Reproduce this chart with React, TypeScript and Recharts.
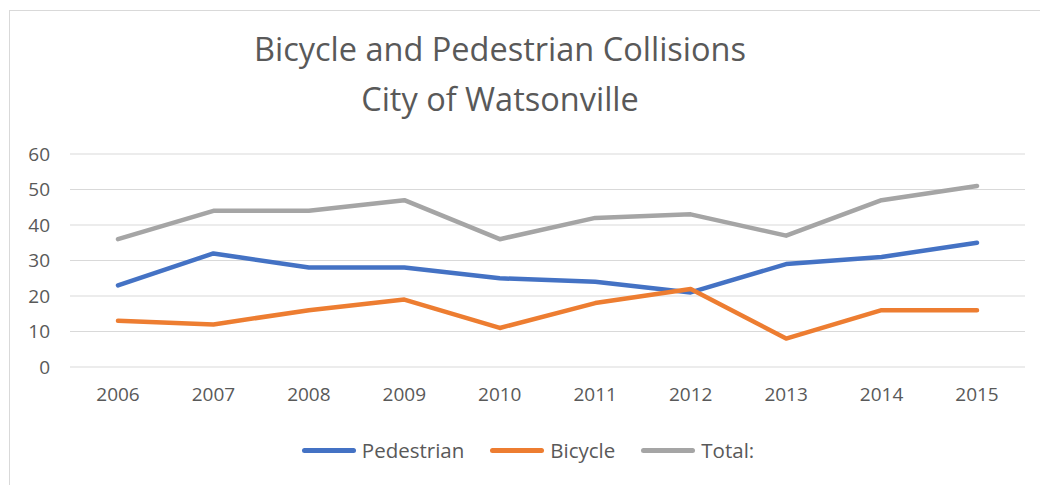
import React from 'react';
import { LineChart, Line, XAxis, YAxis, CartesianGrid, Legend } from 'recharts';

const years = ['2006', '2007', '2008', '2009', '2010', '2011', '2012', '2013', '2014', '2015'];
const pedestrian = [23, 32, 28, 28, 25, 24, 21, 29, 31, 35];
const bicycle = [13, 12, 16, 19, 11, 18, 22, 8, 16, 16];
const total = [36, 44, 44, 47, 36, 42, 43, 37, 47, 51];
const yTicks = [0, 10, 20, 30, 40, 50, 60];

const seriesList = [
    { key: 'pedestrian', name: 'Pedestrian', color: '#4472C4' },
    { key: 'bicycle', name: 'Bicycle', color: '#ED7D31' },
    { key: 'total', name: 'Total:', color: '#A5A5A5' },
];

const data = years.map((year, i) => ({
    year,
    pedestrian: pedestrian[i],
    bicycle: bicycle[i],
    total: total[i],
}));

const FONT = '"Open Sans", "Segoe UI", sans-serif';
const TEXT = '#595959';

function LegendRow() {
    return (
        <div style={{ display: 'flex', justifyContent: 'center', gap: 26, fontFamily: FONT, fontSize: 20.5, color: TEXT }}>
            {seriesList.map(s => (
                <div key={s.key} style={{ display: 'flex', alignItems: 'center', gap: 6 }}>
                    <div style={{ width: 54, height: 5, borderRadius: 3, background: s.color }} />
                    <span>{s.name}</span>
                </div>
            ))}
        </div>
    );
}

export default function App() {
    return (
        <div style={{ position: 'absolute', left: 0, top: 0, width: 1040, height: 485, background: '#fff', overflow: 'hidden' }}>
            {/* frame */}
            <div style={{ position: 'absolute', left: 9, top: 10, width: 1040, height: 480, border: '1px solid #d9d9d9' }} />

            {/* title */}
            <div style={{
                position: 'absolute', left: 0, top: 24, width: 1000, textAlign: 'center',
                fontFamily: FONT, fontSize: 32.5, lineHeight: '50px', color: TEXT,
            }}>
                Bicycle and Pedestrian Collisions<br />City of Watsonville
            </div>

            <div style={{ position: 'absolute', left: 0, top: 0 }}>
                <LineChart width={1040} height={485} data={data} margin={{ top: 154, right: 15, bottom: 0, left: 0 }}>
                    <CartesianGrid vertical={false} stroke="#d9d9d9" />
                    <XAxis
                        dataKey="year"
                        axisLine={false}
                        tickLine={false}
                        tickSize={0}
                        tickMargin={21}
                        height={118}
                        padding={{ left: 48, right: 48 }}
                        tick={{ fill: TEXT, fontSize: 19, fontFamily: FONT }}
                        interval={0}
                    />
                    <YAxis
                        domain={[0, 60]}
                        ticks={yTicks}
                        axisLine={false}
                        tickLine={false}
                        tickSize={0}
                        tickMargin={20}
                        width={70}
                        tick={{ fill: TEXT, fontSize: 19, fontFamily: FONT }}
                    />
                    <Legend
                        verticalAlign="middle"
                        align="center"
                        content={() => <LegendRow />}
                        wrapperStyle={{ position: 'absolute', top: 436, left: 8, width: 1040 }}
                    />
                    {seriesList.map(s => (
                        <Line
                            key={s.key}
                            type="linear"
                            dataKey={s.key}
                            name={s.name}
                            stroke={s.color}
                            strokeWidth={4.5}
                            strokeLinecap="round"
                            strokeLinejoin="round"
                            dot={false}
                            activeDot={false}
                            isAnimationActive={false}
                        />
                    ))}
                </LineChart>
            </div>
        </div>
    );
}
